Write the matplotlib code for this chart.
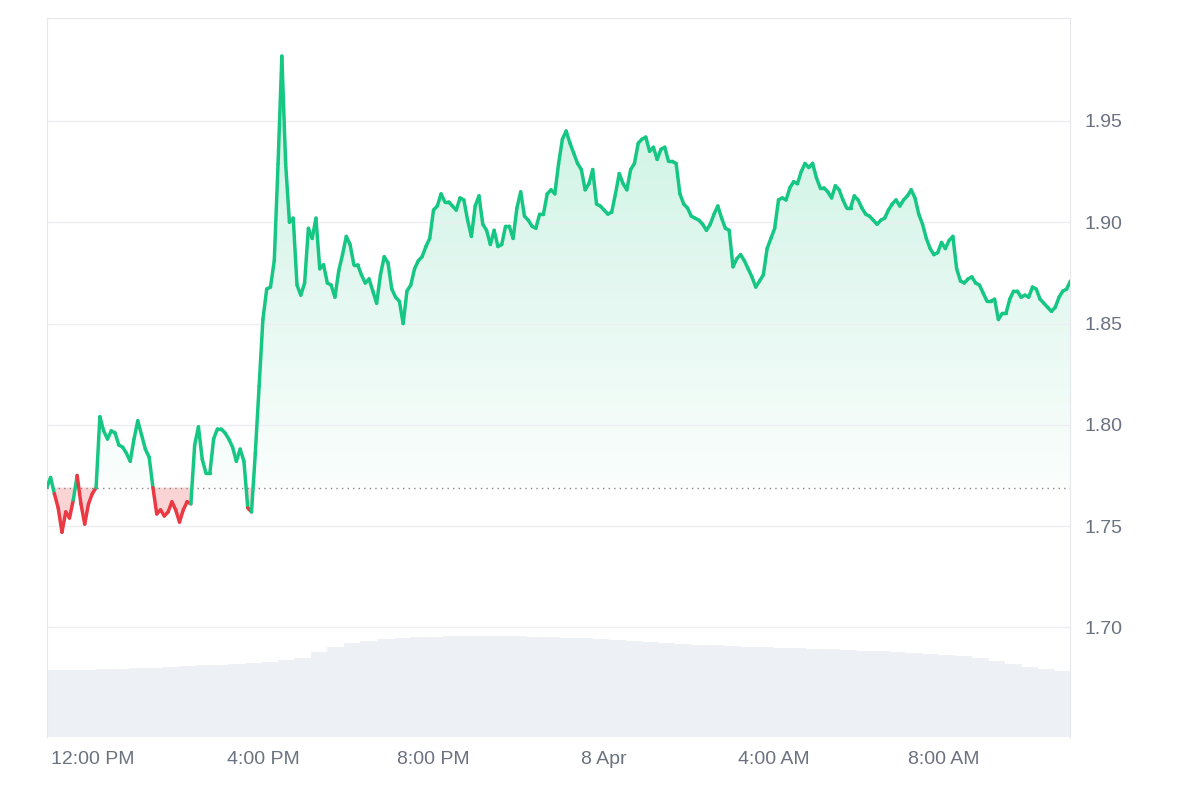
import matplotlib
matplotlib.use("Agg")
import matplotlib.pyplot as plt
import numpy as np
from matplotlib.collections import LineCollection
from matplotlib.path import Path

plt.rcParams['font.family'] = ['Liberation Sans', 'DejaVu Sans']

# price, roughly every 5 minutes, from ~10:55 AM to ~11:00 AM next day
price = [1.769, 1.774, 1.766, 1.759, 1.747, 1.757, 1.754, 1.763, 1.775, 1.761, 1.751, 1.761, 1.766, 1.769,
         1.804, 1.797, 1.793, 1.797, 1.796, 1.790, 1.789, 1.786, 1.782, 1.793, 1.802, 1.795, 1.788, 1.784,
         1.769, 1.756, 1.758, 1.755, 1.757, 1.762, 1.758, 1.752, 1.758, 1.762, 1.761, 1.790, 1.799, 1.783,
         1.776, 1.776, 1.793, 1.798, 1.798, 1.796, 1.793, 1.789, 1.782, 1.788, 1.782, 1.759, 1.757, 1.786,
         1.819, 1.852, 1.867, 1.868, 1.881, 1.929, 1.982, 1.929, 1.900, 1.902, 1.869, 1.864, 1.870, 1.897,
         1.892, 1.902, 1.877, 1.879, 1.870, 1.869, 1.863, 1.876, 1.884, 1.893, 1.889, 1.879, 1.879, 1.874,
         1.870, 1.872, 1.866, 1.860, 1.874, 1.883, 1.880, 1.867, 1.863, 1.861, 1.850, 1.866, 1.869, 1.877,
         1.881, 1.883, 1.888, 1.892, 1.906, 1.908, 1.914, 1.910, 1.910, 1.908, 1.906, 1.912, 1.911, 1.901,
         1.893, 1.908, 1.913, 1.899, 1.896, 1.889, 1.896, 1.888, 1.889, 1.898, 1.898, 1.892, 1.907, 1.915,
         1.903, 1.901, 1.898, 1.897, 1.904, 1.904, 1.914, 1.916, 1.914, 1.929, 1.941, 1.945, 1.939, 1.934,
         1.929, 1.926, 1.916, 1.919, 1.926, 1.909, 1.908, 1.906, 1.904, 1.905, 1.914, 1.924, 1.919, 1.916,
         1.926, 1.929, 1.939, 1.941, 1.942, 1.935, 1.937, 1.931, 1.936, 1.937, 1.930, 1.930, 1.929, 1.914,
         1.909, 1.907, 1.903, 1.902, 1.901, 1.899, 1.896, 1.899, 1.904, 1.908, 1.902, 1.897, 1.896, 1.878,
         1.882, 1.884, 1.881, 1.877, 1.873, 1.868, 1.871, 1.874, 1.887, 1.892, 1.897, 1.911, 1.912, 1.911,
         1.917, 1.920, 1.919, 1.925, 1.929, 1.927, 1.929, 1.922, 1.917, 1.917, 1.915, 1.912, 1.918, 1.916,
         1.911, 1.907, 1.907, 1.913, 1.911, 1.907, 1.904, 1.903, 1.901, 1.899, 1.901, 1.902, 1.906, 1.909,
         1.911, 1.908, 1.911, 1.913, 1.916, 1.912, 1.904, 1.899, 1.892, 1.887, 1.884, 1.885, 1.890, 1.887,
         1.891, 1.893, 1.877, 1.871, 1.870, 1.872, 1.873, 1.870, 1.869, 1.865, 1.861, 1.861, 1.862, 1.852,
         1.855, 1.855, 1.862, 1.866, 1.866, 1.863, 1.864, 1.863, 1.868, 1.867, 1.862, 1.860, 1.858, 1.856,
         1.858, 1.863, 1.866, 1.867, 1.871]

# volume (arbitrary units), half-hourly
volume = [67, 67, 67, 68, 68, 69, 69, 70, 71, 72, 72, 73, 74, 75, 77, 79, 85, 90, 94, 96,
          98, 99, 100, 100, 101, 101, 101, 101, 101, 100, 100, 99, 99, 98, 97, 96, 95, 94, 93, 92,
          92, 91, 90, 90, 89, 89, 88, 88, 87, 86, 86, 85, 84, 83, 82, 81, 79, 76, 73, 70, 68, 66]

start_price = 1.769
t0, t1 = -1.08, 22.97
tick_hours = [0, 4, 8, 12, 16, 20]
tick_labels = ["12:00 PM", "4:00 PM", "8:00 PM", "8 Apr", "4:00 AM", "8:00 AM"]

green = "#16c784"
red = "#ea3943"
grey = "#6b7280"

t = np.linspace(t0, t1, len(price))
p = np.array(price)

fig = plt.figure(figsize=(12, 8), dpi=100)
ax = fig.add_axes([0.039, 0.079, 0.853, 0.899])
ymin, ymax = 1.646, 2.001
ax.set_xlim(t0, t1)
ax.set_ylim(ymin, ymax)

# volume bars at the bottom
axv = ax.twinx()
axv.set_ylim(0, 719)
tv = np.linspace(t0, t1, len(volume) + 1)
axv.bar(tv[:-1], volume, width=(tv[1] - tv[0]), align="edge", color="#edf0f4", edgecolor="#edf0f4", linewidth=0.5)
axv.set_yticks([])
axv.set_zorder(0)
ax.set_zorder(1)
ax.patch.set_visible(False)

# green gradient fill above start price
above = ax.fill_between(t, p, start_price, where=p >= start_price, interpolate=True,
                        color="none", linewidth=0)
clip = Path.make_compound_path(*above.get_paths())
grad = np.linspace(0.28, 0.02, 256).reshape(-1, 1)
cmap = matplotlib.colors.LinearSegmentedColormap.from_list("g", ["white", green])
img = ax.imshow(grad, extent=[t0, t1, start_price, ymax], aspect="auto", cmap=cmap,
                vmin=0, vmax=1, origin="upper", zorder=1, alpha=0.9)
img.set_clip_path(clip, transform=ax.transData)
ax.fill_between(t, p, start_price, where=p <= start_price, interpolate=True,
                color=red, alpha=0.22, linewidth=0, zorder=1)

# price line coloured by side of start price
pts = np.column_stack([t, p]).reshape(-1, 1, 2)
segs = np.concatenate([pts[:-1], pts[1:]], axis=1)
mid = (p[:-1] + p[1:]) / 2
cols = [green if m >= start_price else red for m in mid]
ax.add_collection(LineCollection(segs, colors=cols, linewidths=2.5, zorder=3, capstyle="round", joinstyle="round"))

ax.axhline(start_price, color="#888888", linestyle=(0, (1, 3)), linewidth=1, zorder=2)

ax.yaxis.tick_right()
ax.set_yticks([1.70, 1.75, 1.80, 1.85, 1.90, 1.95])
ax.set_yticklabels(["1.70", "1.75", "1.80", "1.85", "1.90", "1.95"])
ax.set_xticks(tick_hours)
ax.set_xticklabels(tick_labels)
ax.tick_params(length=0, labelsize=14, colors=grey, pad=10)
ax.grid(axis="y", color="#eceef1", linewidth=1)
for s in ["left", "top", "right"]:
    ax.spines[s].set_color("#e5e7eb")
ax.spines["bottom"].set_visible(False)
for s in axv.spines.values():
    s.set_visible(False)

fig.savefig("out.png", dpi=100)
